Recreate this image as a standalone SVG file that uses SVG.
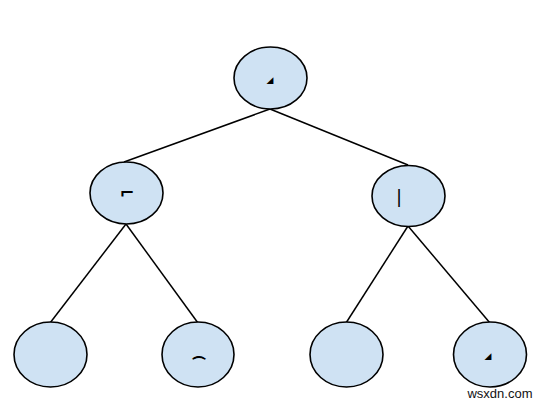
<svg xmlns="http://www.w3.org/2000/svg" width="544" height="405" viewBox="0 0 544 405">
<style>
.n{fill:#cfe2f3;stroke:#000;stroke-width:1.6}
.e{stroke:#000;stroke-width:1.5;fill:none}
.t{font-family:"DejaVu Sans",sans-serif;font-weight:bold;fill:#000;text-anchor:middle}
.w{font-family:"Liberation Sans",Arial,sans-serif;font-size:13px;fill:#111;text-anchor:middle}
</style>
<rect width="544" height="405" fill="#fff"/>
<g id="edges">
<line class="e" x1="270" y1="109" x2="124" y2="162"/>
<line class="e" x1="270" y1="109" x2="408" y2="165"/>
<line class="e" x1="126" y1="224" x2="50" y2="323"/>
<line class="e" x1="126" y1="224" x2="198" y2="323"/>
<line class="e" x1="408" y1="226" x2="346" y2="323"/>
<line class="e" x1="408" y1="226" x2="490" y2="323"/>
</g>
<g id="n1"><ellipse class="n" cx="270.5" cy="78" rx="36.5" ry="31"/><text class="t" x="270" y="83" style="font-size:9px">◢</text></g>
<g id="n2"><ellipse class="n" cx="126.5" cy="193" rx="36.5" ry="31"/><text class="t" x="127" y="199" style="font-size:18px">⌐</text></g>
<g id="n3"><ellipse class="n" cx="408.5" cy="196" rx="36.5" ry="30.5"/><text class="t" x="399" y="203" style="font-size:18px;font-weight:normal">|</text></g>
<g id="n4"><ellipse class="n" cx="50.5" cy="354.5" rx="36.5" ry="32.5"/></g>
<g id="n5"><ellipse class="n" cx="198" cy="354.5" rx="36" ry="32.5"/><text class="t" x="199" y="368" style="font-size:14px" stroke="#000" stroke-width="0.8">⌒</text></g>
<g id="n6"><ellipse class="n" cx="346.5" cy="354.5" rx="36.5" ry="32.5"/></g>
<g id="n7"><ellipse class="n" cx="490" cy="354.5" rx="36.5" ry="32.5"/><text class="t" x="488" y="359" style="font-size:9px">◢</text></g>
<text class="w" x="500" y="398">wsxdn.com</text>
</svg>
